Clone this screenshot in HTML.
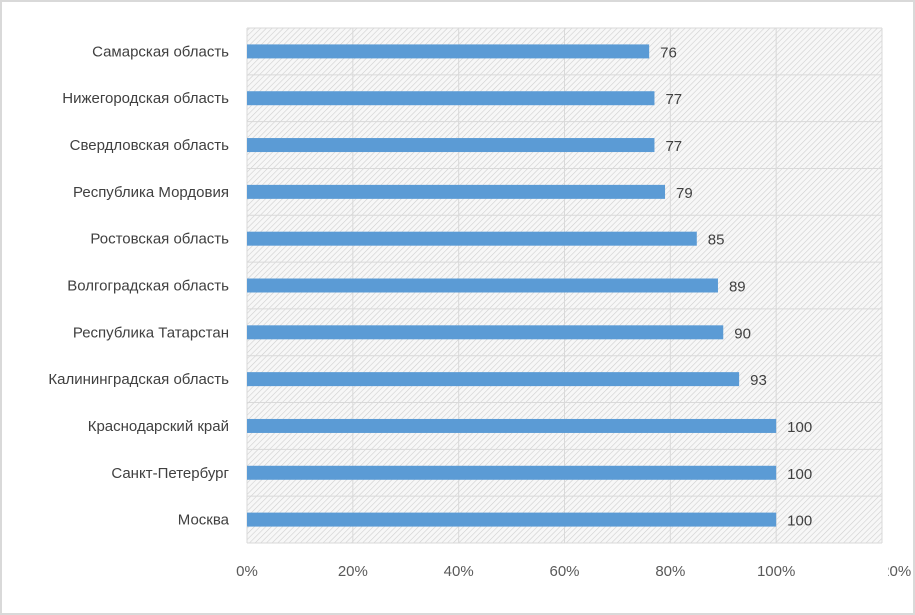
<!DOCTYPE html>
<html><head><meta charset="utf-8"><style>
html,body{margin:0;padding:0;background:#fff;}
svg{display:block;font-family:"Liberation Sans","DejaVu Sans",sans-serif;}
</style></head><body>
<svg id="chart" width="915" height="615">
<defs>
<pattern id="hatch" width="4" height="4" patternUnits="userSpaceOnUse" patternTransform="rotate(45)">
<rect width="4" height="4" fill="#f7f7f7"/>
<line x1="0" y1="0" x2="0" y2="4" stroke="#cfcfcf" stroke-width="1.2"/>
</pattern>
</defs>
<rect x="1" y="1" width="913" height="613" fill="#fff" stroke="#d9d9d9" stroke-width="2"/>
<rect x="247" y="28" width="635" height="515" fill="url(#hatch)"/>
<g id="grid"></g><g id="bars"></g><g id="labels"></g>
<rect x="855" y="555" width="33" height="30" fill="#fff"/>
</svg>
<script>
const categories=["Самарская область","Нижегородская область","Свердловская область","Республика Мордовия","Ростовская область","Волгоградская область","Республика Татарстан","Калининградская область","Краснодарский край","Санкт-Петербург","Москва"];
const values=[76,77,77,79,85,89,90,93,100,100,100];
const ticks=[0,20,40,60,80,100,120];
const tickLabels=["0%","20%","40%","60%","80%","100%","120%"];
const NS="http://www.w3.org/2000/svg";
const X0=247,X1=882,Y0=28,Y1=543,MAX=120;
const x=v=>X0+(v/MAX)*(X1-X0);
const band=(Y1-Y0)/categories.length;
const y=i=>Y0+band*i+band/2;
function mk(t,a,p){const e=document.createElementNS(NS,t);for(const k in a)e.setAttribute(k,a[k]);p.appendChild(e);return e;}
const grid=document.getElementById('grid'),bars=document.getElementById('bars'),labels=document.getElementById('labels');
ticks.forEach((t,i)=>{
 const l=mk('line',{x1:x(t),x2:x(t),y1:Y0,y2:Y1,stroke:'#d9d9d9','stroke-width':1},grid);
 
 
 const tx=mk('text',{x:x(t)+(i==ticks.length-1?10:0),y:576,'text-anchor':'middle','font-size':15,fill:'#595959'},labels);
 tx.textContent=tickLabels[i];
 
 
});
for(let i=0;i<=categories.length;i++){
 const l=mk('line',{x1:X0,x2:X1,y1:Y0+band*i,y2:Y0+band*i,stroke:'#d9d9d9','stroke-width':1},grid);
 
 
}
categories.forEach((c,i)=>{
 const b=mk('rect',{x:X0,y:y(i)-7,width:x(values[i])-X0,height:14,fill:'#5b9bd5'},bars);
 
 
 const v=mk('text',{x:x(values[i])+11,y:y(i)+6,'font-size':15,fill:'#404040'},labels);
 v.textContent=values[i];
 
 
 const t=mk('text',{x:229,y:y(i)+5,'text-anchor':'end','font-size':15,fill:'#404040'},labels);
 t.textContent=c;
 
 
});
</script>
</body></html>
